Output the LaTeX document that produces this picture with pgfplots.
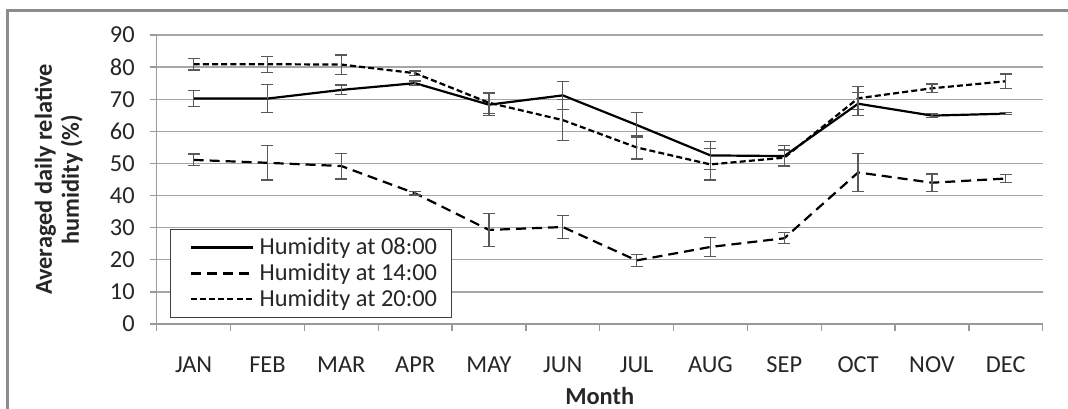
\documentclass[border=0pt]{standalone}
\usepackage{fontspec}
\setmainfont{Carlito}
\usepackage{pgfplots}
\pgfplotsset{compat=1.18}
\usepackage{pgfplotstable}

% 08:00
\pgfplotstableread{
x y e
0 70.2 2.5
1 70.2 4.3
2 72.9 1.5
3 75.0 0.7
4 68.3 3.4
5 71.2 4.4
6 62.0 3.8
7 52.5 4.3
8 52.3 3.3
9 68.6 3.6
10 64.9 0.6
11 65.5 0.3
}\tabA
% 14:00
\pgfplotstableread{
x y e
0 51.1 1.8
1 50.2 5.4
2 49.2 4.0
3 40.7 0.5
4 29.3 5.1
5 30.2 3.6
6 19.8 1.8
7 24.0 2.9
8 26.7 1.7
9 47.2 6.0
10 44.0 2.7
11 45.3 1.2
}\tabB
% 20:00
\pgfplotstableread{
x y e
0 80.9 1.8
1 80.9 2.5
2 80.8 3.0
3 78.1 0.7
4 68.9 3.3
5 63.5 6.4
6 55.0 3.6
7 49.7 4.9
8 51.8 2.4
9 70.3 3.6
10 73.4 1.3
11 75.6 2.3
}\tabC

\begin{document}
\begin{tikzpicture}
\begin{axis}[
  scale only axis,
  width=443pt, height=144.5pt,
  xmin=-0.5, xmax=11.5, ymin=0, ymax=90,
  ytick={0,10,...,90},
  xtick={0,...,11},
  xticklabels={JAN,FEB,MAR,APR,MAY,JUN,JUL,AUG,SEP,OCT,NOV,DEC},
  minor xtick={-0.5,0.5,...,11.5},
  axis lines=left,
  axis line style={-, draw=black!40, line width=0.75pt},
  ymajorgrids,
  grid style={draw=black!35, line width=0.7pt},
  tick align=outside,
  major tick length=3.5pt, minor tick length=3.5pt,
  tick style={draw=black!40, line width=0.7pt},
  major x tick style={draw=none},
  ticklabel style={font=\fontsize{12.2}{13.5}\selectfont, text=black!85},
  /pgf/number format/assume math mode=true,
  yticklabel style={xshift=-4pt},
  xticklabel style={yshift=-9.5pt},
  xlabel={Month},
  xlabel style={font=\bfseries\fontsize{12.2}{13.5}\selectfont, text=black!85,
    at={(axis description cs:0.5,-0.249)}, anchor=center},
  ylabel={Averaged daily relative\\humidity (\%)},
  ylabel style={font=\bfseries\fontsize{12.2}{13.5}\selectfont, text=black!85,
    align=center, at={(axis description cs:-0.1106,0.5)}, anchor=center},
  legend style={at={(axis description cs:0.015,0.3287)}, anchor=north west,
    draw=black!75, line width=0.5pt,
    font=\fontsize{12.2}{13.5}\selectfont, text=black!85,
    inner xsep=5pt, inner ysep=2pt, row sep=-1pt,
    cells={anchor=west}},
  legend image code/.code={\path (0pt,0pt); \draw[#1] (4.5pt,0pt) -- (35.5pt,0pt); \path (36.5pt,0pt);},
  every axis plot/.append style={line width=1.1pt, black, mark=none},
  ebar/.style={error bars/.cd, y dir=both, y explicit,
    error bar style={solid, line width=0.65pt, draw=black!65},
    error mark options={solid, rotate=90, mark size=3pt, line width=0.65pt, draw=black!65}},
]
\addplot[black, line width=1.1pt, ebar] table[x=x, y=y, y error=e]{\tabA};
\addlegendentry{Humidity at 08:00}
\addplot[black, line width=1.1pt, dash pattern=on 5pt off 3pt, ebar] table[x=x, y=y, y error=e]{\tabB};
\addlegendentry{Humidity at 14:00}
\addplot[black, line width=1.1pt, dash pattern=on 3pt off 1.6pt, ebar] table[x=x, y=y, y error=e]{\tabC};
\addlegendentry{Humidity at 20:00}
\end{axis}
\draw[black!45, line width=1.5pt] (-74.35pt,-50pt) -- (-74.35pt,157pt) -- (470pt,157pt);
\pgfresetboundingbox
\path[use as bounding box] (-78.35pt,-42pt) rectangle (455.65pt,162pt);
\end{tikzpicture}
\end{document}
